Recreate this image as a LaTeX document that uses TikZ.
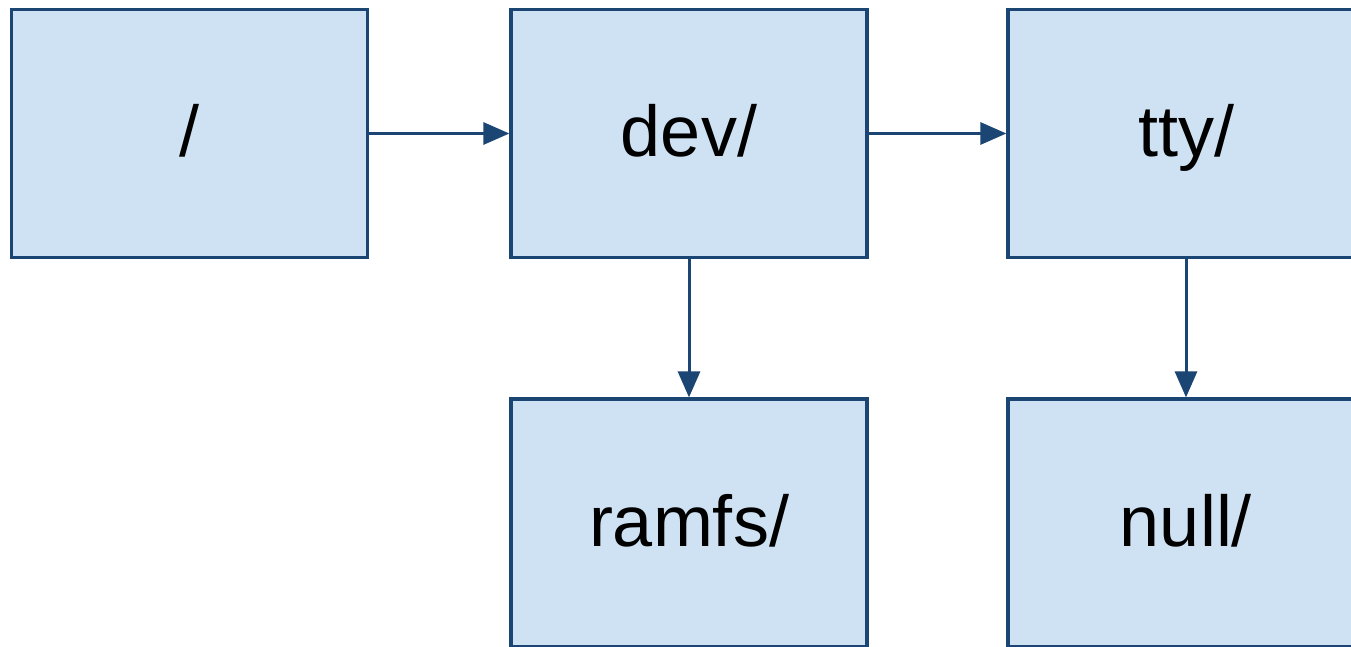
\documentclass[tikz,border=0pt]{standalone}
\usepackage{fontspec}
\setmainfont{Liberation Sans}
\usetikzlibrary{arrows.meta,positioning}

\definecolor{dirfill}{HTML}{CFE2F3}
\definecolor{dirline}{HTML}{1B4573}

\begin{document}
\begin{tikzpicture}[x=0.5pt,y=-0.5pt,
    dir/.style={draw=dirline, line width=1.6pt, fill=dirfill, inner sep=0pt,
      minimum width=178pt, minimum height=124pt,
      font=\fontsize{36}{36}\selectfont, text height=28.8pt, text depth=5.4pt},
    link/.style={dirline, line width=1.5pt, -{Triangle[length=13pt,width=11pt]}}]
\useasboundingbox (0,0) rectangle (1351,647);
\clip (0,0) rectangle (1351,647);

% directory boxes
\node[dir] (root)  at (189.5,133.5) {/};
\node[dir] (dev)   at (689,133.5)   {dev/};
\node[dir] (tty)   at (1186,133.5)  {tty/};
\node[dir] (ramfs) at (689,523)     {ramfs/};
\node[dir] (null)  at (1186,523)    {null/};

% lookups
\draw[link] (root) -- (dev);
\draw[link] (dev) -- (tty);
\draw[link] (dev) -- (ramfs);
\draw[link] (tty) -- (null);
\end{tikzpicture}
\end{document}
